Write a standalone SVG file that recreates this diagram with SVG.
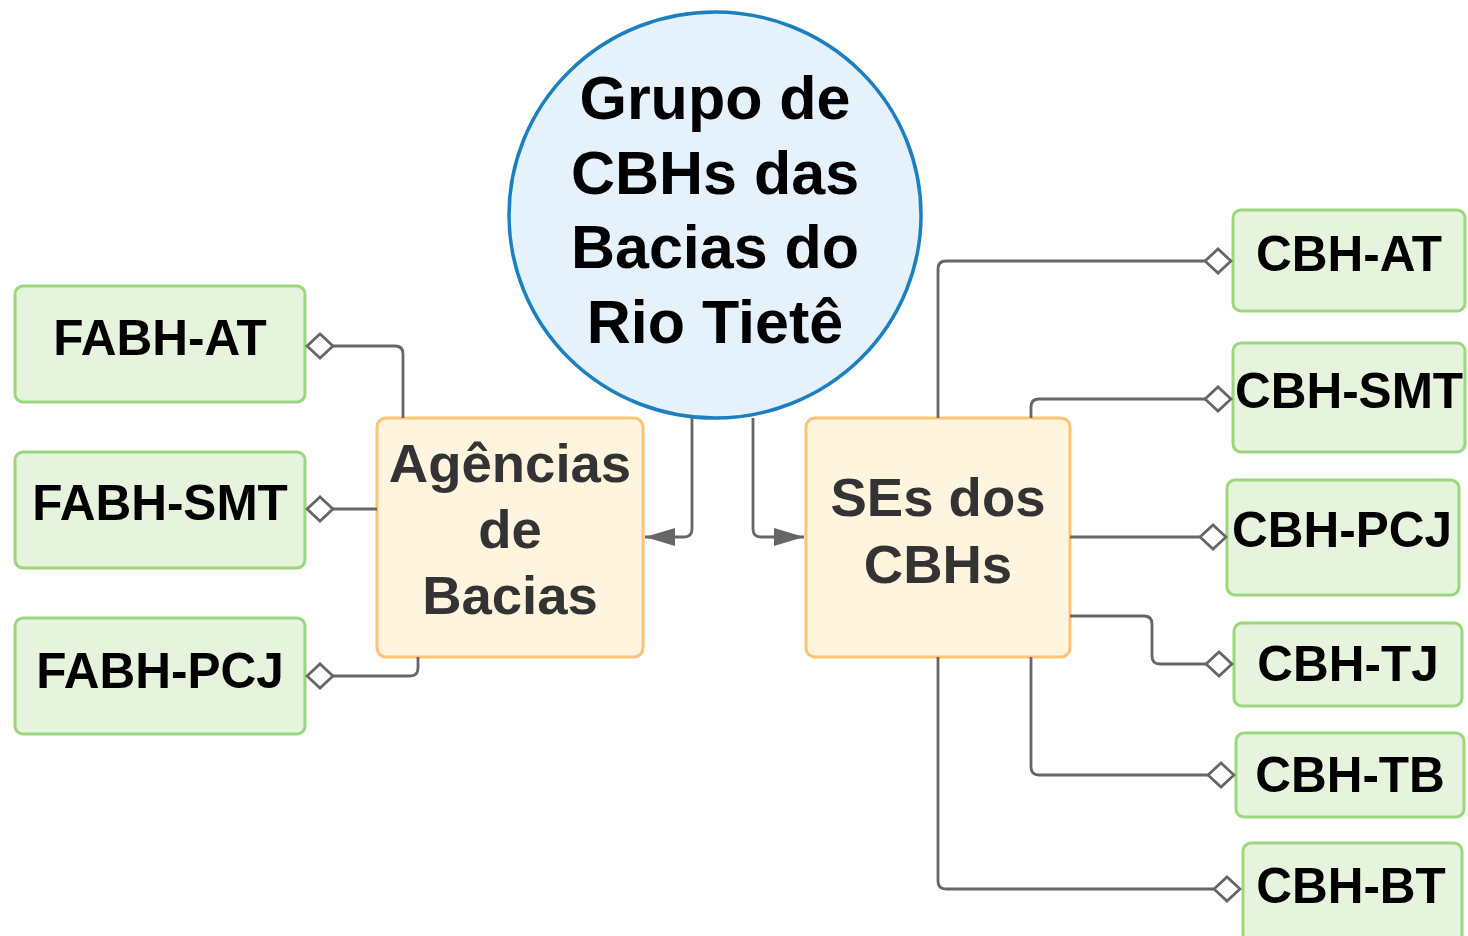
<svg xmlns="http://www.w3.org/2000/svg" width="1468" height="936" viewBox="0 0 1468 936">
  <style>
    .g rect{fill:#e6f4dd;stroke:#9cd67d;stroke-width:3}
    .o rect{fill:#fff5de;stroke:#ffc373;stroke-width:3}
    text{font-family:"Liberation Sans",Arial,Helvetica,sans-serif;font-weight:bold;text-anchor:middle}
    .gt{font-size:49.5px;fill:#000}
    .ot{font-size:54.5px;fill:#333}
    .ct{font-size:61px;fill:#000}
    .c path{fill:none;stroke:#666;stroke-width:2.8}
  </style>
  <defs>
    <marker id="dia" viewBox="-2 -15 30 30" markerWidth="30" markerHeight="30" refX="26" refY="0" orient="auto" markerUnits="userSpaceOnUse">
      <path d="M0,0 L13,-12 L26,0 L13,12 Z" fill="#fff" stroke="#666" stroke-width="2.8"/>
    </marker>
    <marker id="arr" viewBox="0 -10 31 20" markerWidth="31" markerHeight="20" refX="30" refY="0" orient="auto" markerUnits="userSpaceOnUse">
      <path d="M0,-9 L30,0 L0,9 Z" fill="#666"/>
    </marker>
  </defs>
  <rect width="1468" height="936" fill="#fff"/>

  <g id="grupo">
    <ellipse cx="715" cy="215" rx="206" ry="203" fill="#e5f2fb" stroke="#1b7fc0" stroke-width="3.5"/>
    <text class="ct" x="715" y="119">Grupo de</text>
    <text class="ct" x="715" y="194">CBHs das</text>
    <text class="ct" x="715" y="268">Bacias do</text>
    <text class="ct" x="715" y="343">Rio Tietê</text>
  </g>

  <g id="agencias" class="o">
    <rect x="377" y="418" width="266" height="239" rx="9"/>
    <text class="ot" x="510" y="482">Agências</text>
    <text class="ot" x="510" y="548">de</text>
    <text class="ot" x="510" y="614">Bacias</text>
  </g>

  <g id="ses" class="o">
    <rect x="806" y="418" width="264" height="239" rx="9"/>
    <text class="ot" x="938" y="516">SEs dos</text>
    <text class="ot" x="938" y="583">CBHs</text>
  </g>

  <g id="fabh-at" class="g">
    <rect x="15" y="286" width="290" height="116" rx="8"/>
    <text class="gt" x="160" y="355">FABH-AT</text>
  </g>
  <g id="fabh-smt" class="g">
    <rect x="15" y="452" width="290" height="116" rx="8"/>
    <text class="gt" x="160" y="520">FABH-SMT</text>
  </g>
  <g id="fabh-pcj" class="g">
    <rect x="15" y="618" width="290" height="116" rx="8"/>
    <text class="gt" x="160" y="688">FABH-PCJ</text>
  </g>

  <g id="cbh-at" class="g">
    <rect x="1233" y="210" width="232" height="101" rx="8"/>
    <text class="gt" x="1349" y="271">CBH-AT</text>
  </g>
  <g id="cbh-smt" class="g">
    <rect x="1233" y="343" width="232" height="109" rx="8"/>
    <text class="gt" x="1349" y="408">CBH-SMT</text>
  </g>
  <g id="cbh-pcj" class="g">
    <rect x="1227" y="480" width="232" height="115" rx="8"/>
    <text class="gt" x="1342" y="547">CBH-PCJ</text>
  </g>
  <g id="cbh-tj" class="g">
    <rect x="1234" y="623" width="228" height="83" rx="8"/>
    <text class="gt" x="1348" y="681">CBH-TJ</text>
  </g>
  <g id="cbh-tb" class="g">
    <rect x="1236" y="733" width="228" height="84" rx="8"/>
    <text class="gt" x="1350" y="792">CBH-TB</text>
  </g>
  <g id="cbh-bt" class="g">
    <rect x="1243" y="843" width="219" height="100" rx="8"/>
    <text class="gt" x="1351" y="903">CBH-BT</text>
  </g>

  <g id="connectors" class="c">
    <path d="M403,418 V354 Q403,346 395,346 H307" marker-end="url(#dia)"/>
    <path d="M377,509 H307" marker-end="url(#dia)"/>
    <path d="M418,657 V668 Q418,676 410,676 H307" marker-end="url(#dia)"/>
    <path d="M692,418 V529 Q692,537 684,537 H645" marker-end="url(#arr)"/>
    <path d="M753,418 V529 Q753,537 761,537 H804" marker-end="url(#arr)"/>
    <path d="M938,418 V269 Q938,261 946,261 H1231" marker-end="url(#dia)"/>
    <path d="M1031,418 V407 Q1031,399 1039,399 H1231" marker-end="url(#dia)"/>
    <path d="M1070,537 H1226" marker-end="url(#dia)"/>
    <path d="M1070,616 H1144 Q1152,616 1152,624 V656 Q1152,664 1160,664 H1232" marker-end="url(#dia)"/>
    <path d="M1031,657 V767 Q1031,775 1039,775 H1234" marker-end="url(#dia)"/>
    <path d="M938,657 V881 Q938,889 946,889 H1240" marker-end="url(#dia)"/>
  </g>
</svg>
